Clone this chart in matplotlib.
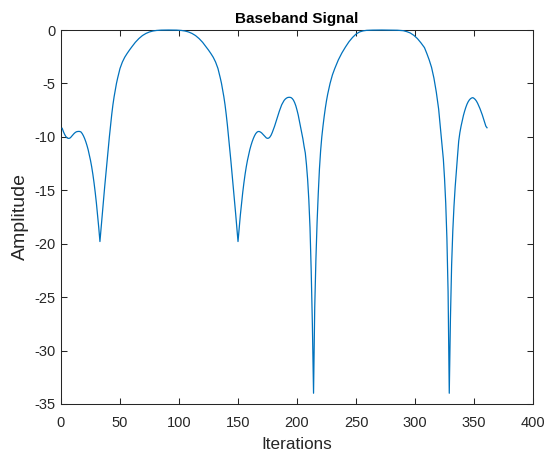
import matplotlib
matplotlib.use("Agg")
import matplotlib.pyplot as plt

plt.rcParams['font.family'] = ['Liberation Sans', 'DejaVu Sans']
plt.rcParams['axes.unicode_minus'] = False

# baseband amplitude (dB) at selected iterations
iterations = [
    1, 2, 3, 4, 5, 6, 7, 8, 9, 10, 11, 12, 13, 14, 15, 16, 17, 18, 19, 20,
    21, 22, 23, 24, 25, 26, 27, 28, 29, 30, 31, 32, 33, 34, 35, 36, 37, 38,
    39, 40, 41, 42, 43, 44, 45, 46, 47, 48, 50, 52, 54, 56, 58, 60, 63, 66,
    69, 72, 75, 78, 81, 85, 91, 98, 102, 105, 108, 111, 114, 117, 120, 123,
    125, 127, 129, 131, 133, 135, 136, 137, 138, 139, 140, 141, 142, 143,
    144, 145, 146, 147, 148, 149, 150, 151, 152, 153, 154, 155, 156, 157,
    158, 159, 160, 161, 162, 163, 164, 165, 166, 167, 168, 169, 170, 171,
    172, 173, 174, 175, 176, 177, 178, 179, 180, 181, 182, 183, 184, 185,
    186, 187, 188, 189, 190, 191, 192, 193, 194, 195, 196, 197, 198, 199,
    200, 201, 202, 203, 204, 205, 206, 207, 208, 209, 210, 211, 212, 213,
    214, 215, 216, 217, 218, 219, 220, 221, 222, 223, 224, 225, 226, 228,
    230, 232, 235, 238, 241, 244, 247, 250, 253, 256, 259, 264, 272, 280,
    285, 290, 293, 296, 299, 302, 305, 308, 310, 312, 314, 316, 318, 319,
    320, 321, 322, 323, 324, 325, 326, 327, 328, 329, 330, 331, 332, 333,
    334, 335, 336, 337, 338, 339, 340, 341, 342, 343, 344, 345, 346, 347,
    348, 349, 350, 351, 352, 353, 354, 355, 356, 357, 358, 359, 360, 361,
]
amplitude = [
    -9.2, -9.5, -9.75, -9.95, -10.08, -10.14, -10.14, -10.08, -9.95, -9.82,
    -9.7, -9.6, -9.53, -9.5, -9.49, -9.5, -9.55, -9.7, -9.9, -10.15,
    -10.45, -10.8, -11.2, -11.7, -12.2, -12.8, -13.5, -14.3, -15.2, -16.2,
    -17.3, -18.5, -19.8, -18.5, -17.2, -15.9, -14.7, -13.5,
    -12.3, -11.2, -10.0, -8.9, -7.9, -7.0, -6.25, -5.6, -5.0, -4.5, -3.6,
    -3.0, -2.55, -2.2, -1.88, -1.58, -1.15, -0.8,
    -0.52, -0.32, -0.18, -0.09, -0.04, -0.01, 0.0, -0.01, -0.04, -0.09,
    -0.18, -0.32, -0.52, -0.8, -1.15, -1.58,
    -1.88, -2.2, -2.55, -3.0, -3.6, -4.5, -5.0, -5.6, -6.25, -7.0, -7.9,
    -8.9, -10.0, -11.2,
    -12.3, -13.5, -14.7, -15.9, -17.2, -18.5, -19.8, -18.5, -17.3, -16.2,
    -15.2, -14.3, -13.5, -12.8,
    -12.2, -11.7, -11.2, -10.8, -10.45, -10.15, -9.9, -9.7, -9.57, -9.5,
    -9.5, -9.55, -9.63, -9.75,
    -9.88, -10.0, -10.1, -10.14, -10.12, -10.02, -9.85, -9.6, -9.3, -9.0,
    -8.65, -8.3, -7.95, -7.6,
    -7.3, -7.0, -6.8, -6.6, -6.47, -6.38, -6.32, -6.3, -6.3, -6.33, -6.42,
    -6.57, -6.8, -7.1,
    -7.5, -7.95, -8.5, -9.05, -9.6, -10.2, -10.9, -11.5, -12.6, -14.0,
    -15.9, -18.5, -22.5, -27.5,
    -34.0, -26.0, -21.5, -18.0, -15.3, -13.0, -11.3, -10.0, -9.0, -8.1,
    -7.3, -6.6, -6.0, -5.0,
    -4.2, -3.6, -2.8, -2.15, -1.6, -1.1, -0.7, -0.38, -0.18, -0.08, -0.03,
    -0.01, 0.0, -0.01,
    -0.02, -0.06, -0.15, -0.28, -0.5, -0.8, -1.2, -1.65, -2.2, -2.8, -3.5,
    -4.5, -5.8, -6.6,
    -7.4, -8.6, -9.8, -10.9, -12.1, -13.9, -16.2, -19.5, -24.5, -34.0,
    -27.0, -22.0, -18.8, -16.5,
    -14.7, -13.2, -11.8, -10.4, -9.6, -9.0, -8.5, -8.0, -7.6, -7.25, -6.95,
    -6.72, -6.55, -6.43,
    -6.36, -6.33, -6.4, -6.5, -6.65, -6.85, -7.1, -7.35, -7.65, -7.95,
    -8.3, -8.65, -9.0, -9.15,
]

fig = plt.figure(figsize=(5.47, 4.59), dpi=100)
ax = fig.add_axes([0.1115, 0.12, 0.863, 0.8146])

# drawn above the axes box so the 0 dB stretch stays visible on the top edge
ax.plot(iterations, amplitude, color='#0072BD', linewidth=0.9,
        zorder=3, clip_on=False)

ax.set_xlim(0, 400)
ax.set_ylim(-35, 0)
ax.set_xticks(range(0, 401, 50))
ax.set_yticks(range(-35, 1, 5))

dark = '#262626'
for side in ax.spines.values():
    side.set_color(dark)
    side.set_linewidth(0.75)
ax.tick_params(direction='in', length=4, width=0.75, color=dark,
               labelcolor=dark, labelsize=10.5, top=True, right=True, pad=4)
ax.tick_params(axis='x', pad=9)

ax.set_title('Baseband Signal', fontsize=11, fontweight='bold', color='black', pad=5)
ax.set_xlabel('Iterations', fontsize=12.3, color=dark, labelpad=5)
ax.set_ylabel('Amplitude', fontsize=14, color=dark, labelpad=4)

fig.savefig('out.png', dpi=100)
